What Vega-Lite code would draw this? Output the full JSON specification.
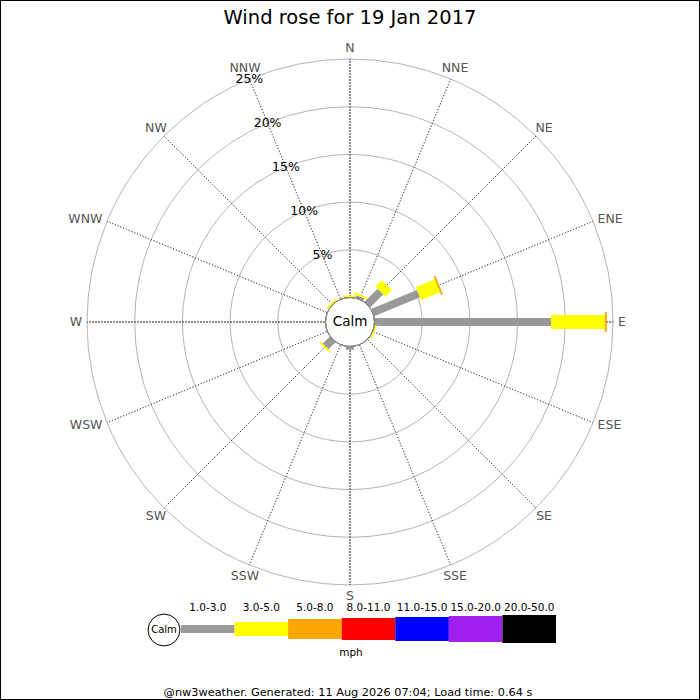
{
  "$schema": "https://vega.github.io/schema/vega-lite/v6.json",
  "width": 700,
  "height": 700,
  "autosize": "none",
  "padding": 0,
  "background": "white",
  "config": {"view": {"stroke": "black", "strokeWidth": 2}, "font": "DejaVu Sans"},
  "title": {"text": "Wind rose for 19 Jan 2017", "fontSize": 19.5, "fontWeight": "normal", "font": "DejaVu Sans", "color": "#000000", "anchor": "middle", "offset": 0, "dy": 43, "baseline": "alphabetic", "frame": "group"},
  "datasets": {
    "dirs": [
      {"dir": 0, "name": "N"}, {"dir": 22.5, "name": "NNE"}, {"dir": 45, "name": "NE"}, {"dir": 67.5, "name": "ENE"},
      {"dir": 90, "name": "E"}, {"dir": 112.5, "name": "ESE"}, {"dir": 135, "name": "SE"}, {"dir": 157.5, "name": "SSE"},
      {"dir": 180, "name": "S"}, {"dir": 202.5, "name": "SSW"}, {"dir": 225, "name": "SW"}, {"dir": 247.5, "name": "WSW"},
      {"dir": 270, "name": "W"}, {"dir": 292.5, "name": "WNW"}, {"dir": 315, "name": "NW"}, {"dir": 337.5, "name": "NNW"}
    ],
    "rings": [
      {"pct": 5, "label": "5%"}, {"pct": 10, "label": "10%"}, {"pct": 15, "label": "15%"}, {"pct": 20, "label": "20%"}, {"pct": 25, "label": "25%"}
    ],
    "rose": [
      {"dir": 0, "cls": "3.0-5.0", "pct": 0.2},
      {"dir": 22.5, "cls": "1.0-3.0", "pct": 0.3},
      {"dir": 22.5, "cls": "3.0-5.0", "pct": 0.2},
      {"dir": 45, "cls": "1.0-3.0", "pct": 1.95},
      {"dir": 45, "cls": "3.0-5.0", "pct": 0.95},
      {"dir": 67.5, "cls": "1.0-3.0", "pct": 5.2},
      {"dir": 67.5, "cls": "3.0-5.0", "pct": 2.15},
      {"dir": 67.5, "cls": "5.0-8.0", "pct": 0.2},
      {"dir": 90, "cls": "1.0-3.0", "pct": 18.5},
      {"dir": 90, "cls": "3.0-5.0", "pct": 5.65},
      {"dir": 90, "cls": "5.0-8.0", "pct": 0.2},
      {"dir": 112.5, "cls": "3.0-5.0", "pct": 0.2},
      {"dir": 180, "cls": "1.0-3.0", "pct": 0.35},
      {"dir": 225, "cls": "1.0-3.0", "pct": 1.05},
      {"dir": 225, "cls": "3.0-5.0", "pct": 0.2},
      {"dir": 315, "cls": "3.0-5.0", "pct": 0.2}
    ],
    "classes": [
      {"cls": "1.0-3.0"}, {"cls": "3.0-5.0"}, {"cls": "5.0-8.0"}, {"cls": "8.0-11.0"},
      {"cls": "11.0-15.0"}, {"cls": "15.0-20.0"}, {"cls": "20.0-50.0"}
    ],
    "calm": [{"label": "Calm"}],
    "unit": [{"label": "mph"}],
    "footer": [{"label": "@nw3weather. Generated: 11 Aug 2026 07:04; Load time: 0.64 s"}]
  },
  "layer": [
    {
      "encoding": {"x": {"value": 350}, "y": {"value": 322}},
      "layer": [
        {
          "data": {"name": "rings"},
          "mark": {"type": "arc", "filled": false, "stroke": "#b4b4b4", "strokeWidth": 1},
          "encoding": {
            "theta": {"value": 0},
            "theta2": {"value": 6.283185307179586},
            "radius": {"field": "pct", "type": "quantitative", "stack": null, "scale": {"type": "linear", "domain": [0, 25], "range": [24.5, 263], "zero": false}}
          }
        },
        {
          "data": {"name": "dirs"},
          "transform": [{"filter": "datum.dir % 90 != 0"}],
          "mark": {"type": "arc", "filled": false, "stroke": "#555555", "strokeWidth": 1, "strokeDash": [1, 2], "strokeDashOffset": 0.5},
          "encoding": {
            "theta": {"field": "dir", "type": "quantitative", "scale": {"type": "linear", "domain": [0, 360], "range": [0, 6.283185307179586]}},
            "theta2": {"field": "dir"},
            "radius": {"datum": 25, "type": "quantitative", "scale": {"type": "linear", "domain": [0, 25], "range": [24.5, 263], "zero": false}},
            "radius2": {"datum": 0}
          }
        },
        {
          "data": {"name": "dirs"},
          "transform": [{"filter": "datum.dir % 90 == 0"}],
          "mark": {"type": "arc", "filled": false, "stroke": "#666666", "strokeWidth": 1, "strokeDash": [2, 1], "strokeDashOffset": 1},
          "encoding": {
            "theta": {"field": "dir", "type": "quantitative", "scale": {"type": "linear", "domain": [0, 360], "range": [0, 6.283185307179586]}},
            "theta2": {"field": "dir"},
            "radius": {"datum": 25, "type": "quantitative", "scale": {"type": "linear", "domain": [0, 25], "range": [24.5, 263], "zero": false}},
            "radius2": {"datum": 0}
          }
        },
        {
          "data": {"name": "rose"},
          "transform": [{"stack": "pct", "groupby": ["dir"], "sort": [{"field": "cls", "order": "ascending"}], "as": ["r0", "r1"]}],
          "mark": {"type": "arc", "filled": false, "strokeJoin": "bevel"},
          "encoding": {
            "theta": {"field": "dir", "type": "quantitative", "scale": {"type": "linear", "domain": [0, 360], "range": [0, 6.283185307179586]}},
            "theta2": {"field": "dir"},
            "radius": {"field": "r1", "type": "quantitative", "scale": {"type": "linear", "domain": [0, 25], "range": [24.5, 263], "zero": false}},
            "radius2": {"field": "r0"},
            "stroke": {"field": "cls", "type": "nominal", "legend": null, "scale": {"domain": ["1.0-3.0", "3.0-5.0", "5.0-8.0", "8.0-11.0", "11.0-15.0", "15.0-20.0", "20.0-50.0"], "range": ["#999999", "#ffff00", "#ffa500", "#ff0000", "#0000ff", "#a020f0", "#000000"]}},
            "strokeWidth": {"field": "cls", "type": "ordinal", "legend": null, "scale": {"type": "ordinal", "domain": ["1.0-3.0", "3.0-5.0", "5.0-8.0", "8.0-11.0", "11.0-15.0", "15.0-20.0", "20.0-50.0"], "range": [8, 14, 20, 22, 24, 26, 28]}}
          }
        },
        {
          "data": {"name": "calm"},
          "mark": {"type": "arc", "fill": "white", "stroke": "#888888", "strokeWidth": 1},
          "encoding": {
            "theta": {"value": 0},
            "theta2": {"value": 6.283185307179586},
            "radius": {"datum": 0, "type": "quantitative", "stack": null, "scale": {"type": "linear", "domain": [0, 25], "range": [24.5, 263], "zero": false}}
          }
        },
        {
          "data": {"name": "calm"},
          "mark": {"type": "text", "fontSize": 13.5, "color": "#000000", "align": "center", "baseline": "middle", "font": "DejaVu Sans"},
          "encoding": {"text": {"field": "label"}}
        },
        {
          "data": {"name": "rings"},
          "mark": {"type": "text", "fontSize": 12.5, "color": "#000000", "align": "center", "baseline": "middle", "font": "DejaVu Sans"},
          "encoding": {
            "text": {"field": "label"},
            "theta": {"datum": 337.5, "type": "quantitative", "scale": {"type": "linear", "domain": [0, 360], "range": [0, 6.283185307179586]}},
            "radius": {"field": "pct", "type": "quantitative", "stack": null, "scale": {"type": "linear", "domain": [0, 25], "range": [24.5, 263], "zero": false}}
          }
        },
        {
          "data": {"name": "dirs"},
          "transform": [{"filter": "!(datum.dir > 60 && datum.dir < 120) && !(datum.dir > 240 && datum.dir < 300)"}],
          "mark": {"type": "text", "fontSize": 12.5, "color": "#555555", "align": "center", "baseline": "middle", "font": "DejaVu Sans"},
          "encoding": {
            "text": {"field": "name"},
            "theta": {"field": "dir", "type": "quantitative", "scale": {"type": "linear", "domain": [0, 360], "range": [0, 6.283185307179586]}},
            "radius": {"datum": 26.2, "type": "quantitative", "scale": {"type": "linear", "domain": [0, 25], "range": [24.5, 263], "zero": false}}
          }
        },
        {
          "data": {"name": "dirs"},
          "transform": [{"filter": "datum.dir > 60 && datum.dir < 120"}],
          "mark": {"type": "text", "fontSize": 12.5, "color": "#555555", "align": "left", "baseline": "middle", "font": "DejaVu Sans"},
          "encoding": {
            "text": {"field": "name"},
            "theta": {"field": "dir", "type": "quantitative", "scale": {"type": "linear", "domain": [0, 360], "range": [0, 6.283185307179586]}},
            "radius": {"datum": 25.52, "type": "quantitative", "scale": {"type": "linear", "domain": [0, 25], "range": [24.5, 263], "zero": false}}
          }
        },
        {
          "data": {"name": "dirs"},
          "transform": [{"filter": "datum.dir > 240 && datum.dir < 300"}],
          "mark": {"type": "text", "fontSize": 12.5, "color": "#555555", "align": "right", "baseline": "middle", "font": "DejaVu Sans"},
          "encoding": {
            "text": {"field": "name"},
            "theta": {"field": "dir", "type": "quantitative", "scale": {"type": "linear", "domain": [0, 360], "range": [0, 6.283185307179586]}},
            "radius": {"datum": 25.52, "type": "quantitative", "scale": {"type": "linear", "domain": [0, 25], "range": [24.5, 263], "zero": false}}
          }
        }
      ]
    },
    {
      "data": {"name": "classes"},
      "mark": {"type": "rule"},
      "encoding": {
        "x": {"field": "cls", "type": "ordinal", "bandPosition": 0, "axis": null, "scale": {"type": "band", "domain": ["1.0-3.0", "3.0-5.0", "5.0-8.0", "8.0-11.0", "11.0-15.0", "15.0-20.0", "20.0-50.0"], "range": [181, 556], "paddingInner": 0, "paddingOuter": 0}},
        "x2": {"field": "cls", "bandPosition": 1},
        "y": {"value": 629},
        "stroke": {"field": "cls", "type": "nominal", "legend": null, "scale": {"domain": ["1.0-3.0", "3.0-5.0", "5.0-8.0", "8.0-11.0", "11.0-15.0", "15.0-20.0", "20.0-50.0"], "range": ["#999999", "#ffff00", "#ffa500", "#ff0000", "#0000ff", "#a020f0", "#000000"]}},
        "strokeWidth": {"field": "cls", "type": "ordinal", "legend": null, "scale": {"type": "ordinal", "domain": ["1.0-3.0", "3.0-5.0", "5.0-8.0", "8.0-11.0", "11.0-15.0", "15.0-20.0", "20.0-50.0"], "range": [8, 14, 20, 22, 24, 26, 28]}}
      }
    },
    {
      "data": {"name": "classes"},
      "mark": {"type": "text", "fontSize": 10.5, "color": "#000000", "align": "center", "baseline": "alphabetic", "font": "DejaVu Sans"},
      "encoding": {
        "x": {"field": "cls", "type": "ordinal", "bandPosition": 0.5, "axis": null, "scale": {"type": "band", "domain": ["1.0-3.0", "3.0-5.0", "5.0-8.0", "8.0-11.0", "11.0-15.0", "15.0-20.0", "20.0-50.0"], "range": [181, 556], "paddingInner": 0, "paddingOuter": 0}},
        "y": {"value": 611},
        "text": {"field": "cls"}
      }
    },
    {
      "data": {"name": "calm"},
      "mark": {"type": "point", "shape": "circle", "filled": true, "fill": "white", "stroke": "#000000", "strokeWidth": 1, "size": 1018, "opacity": 1, "xOffset": -17},
      "encoding": {
        "x": {"datum": "1.0-3.0", "type": "ordinal", "bandPosition": 0},
        "y": {"value": 630}
      }
    },
    {
      "data": {"name": "calm"},
      "mark": {"type": "text", "fontSize": 10, "color": "#000000", "align": "center", "baseline": "middle", "font": "DejaVu Sans", "xOffset": -17},
      "encoding": {
        "x": {"datum": "1.0-3.0", "type": "ordinal", "bandPosition": 0},
        "y": {"value": 630},
        "text": {"field": "label"}
      }
    },
    {
      "data": {"name": "unit"},
      "mark": {"type": "text", "fontSize": 10.5, "color": "#000000", "align": "center", "baseline": "alphabetic", "font": "DejaVu Sans"},
      "encoding": {"x": {"value": 351}, "y": {"value": 656}, "text": {"field": "label"}}
    },
    {
      "data": {"name": "footer"},
      "mark": {"type": "text", "fontSize": 11.3, "color": "#000000", "align": "center", "baseline": "alphabetic", "font": "DejaVu Sans"},
      "encoding": {"x": {"value": 348}, "y": {"value": 695.5}, "text": {"field": "label"}}
    }
  ]
}
